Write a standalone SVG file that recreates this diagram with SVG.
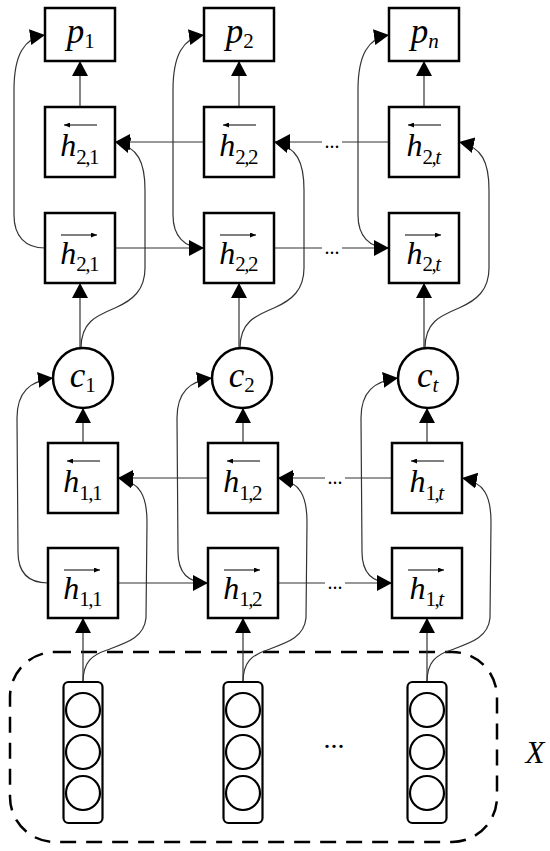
<svg xmlns="http://www.w3.org/2000/svg" width="550" height="851" viewBox="0 0 550 851">
<style>
.box{fill:#fff;stroke:#000;stroke-width:2.5}
.con{fill:none;stroke:#333;stroke-width:1.2}
.arr{marker-end:url(#ah)}
.lbl{font-family:"Liberation Serif","Times New Roman",serif;font-size:35px;font-style:italic;fill:#000}
.hl{font-size:32px}
.sub{font-size:21px;font-style:normal;letter-spacing:-1.5px}
.it{font-style:italic}
.ov{fill:none;stroke:#000;stroke-width:1;marker-end:url(#sa)}
.dots{font-family:"Liberation Serif","Times New Roman",serif;font-size:20px;fill:#000}
.big{font-size:28px}
.in{fill:#fff;stroke:#000;stroke-width:2.2}
</style>
<defs>
<marker id="ah" markerUnits="userSpaceOnUse" markerWidth="15" markerHeight="16" refX="15" refY="8" orient="auto"><path d="M0,0 L15,8 L0,16 z" fill="#000"/></marker>
<marker id="sa" markerUnits="userSpaceOnUse" markerWidth="6" markerHeight="5" refX="6" refY="2.5" orient="auto"><path d="M0,0 L6,2.5 L0,5 z" fill="#000"/></marker>
</defs>
<rect x="0" y="0" width="550" height="851" fill="#fff"/>

<g id="input-region">
<rect x="10" y="652" width="487" height="190" rx="45" ry="45" fill="none" stroke="#000" stroke-width="2.5" stroke-dasharray="16 10"/>
<text x="535" y="763" text-anchor="middle" class="lbl" style="font-size:31px">X</text>
<text x="334" y="748" text-anchor="middle" class="dots big">...</text>
</g>

<g id="connectors">
<path class="con arr" d="M80,107 V61"/>
<path class="con arr" d="M80,348 V283"/>
<path class="con arr" d="M83,443 V408"/>
<path class="con arr" d="M83,682 V618"/>
<path class="con arr" d="M239,107 V61"/>
<path class="con arr" d="M239,348 V283"/>
<path class="con arr" d="M243,443 V408"/>
<path class="con arr" d="M243,682 V618"/>
<path class="con arr" d="M424,107 V61"/>
<path class="con arr" d="M424,348 V283"/>
<path class="con arr" d="M427,443 V408"/>
<path class="con arr" d="M427,682 V618"/>
<path class="con arr" d="M45,248 C25,248 14,236 14,215 L14,90 C14,55 24,38 45,35"/>
<path class="con arr" d="M204,248 C184,248 173,236 173,215 L173,90 C173,55 183,38 204,35"/>
<path class="con arr" d="M389,248 C369,248 358,236 358,215 L358,90 C358,55 368,38 389,35"/>
<path class="con arr" d="M81,348 C81,322 96,316 115,308 C133,300 145,290 145,268 L145,190 C145,162 138,147 115,142"/>
<path class="con arr" d="M240,348 C240,322 255,316 274,308 C292,300 304,290 304,268 L304,190 C304,162 297,147 274,142"/>
<path class="con arr" d="M425,348 C425,322 440,316 459,308 C477,300 489,290 489,268 L489,190 C489,162 482,147 459,142"/>
<path class="con arr" d="M48,583 C28,583 18,572 18,552 L17,418 C17,392 30,381 53,378"/>
<path class="con arr" d="M208,583 C188,583 178,572 178,552 L177,418 C177,392 190,381 212,378"/>
<path class="con arr" d="M392,583 C372,583 362,572 362,552 L361,418 C361,392 374,381 398,378"/>
<path class="con arr" d="M83,682 C83,662 92,655 107,650 C126,643 144,638 146,618 L147,522 C147,496 140,482 118,478"/>
<path class="con arr" d="M243,682 C243,662 252,655 267,650 C286,643 304,638 306,618 L307,522 C307,496 300,482 278,478"/>
<path class="con arr" d="M427,682 C427,662 436,655 451,650 C470,643 488,638 490,618 L491,522 C491,496 484,482 462,478"/>
<path class="con arr" d="M204,142 H115"/>
<path class="con arr" d="M389,142 H342 M322,142 H275"/>
<path class="con arr" d="M115,248 H204"/>
<path class="con arr" d="M275,248 H322 M342,248 H389"/>
<path class="con arr" d="M208,478 H118"/>
<path class="con arr" d="M392,478 H345 M325,478 H278"/>
<path class="con arr" d="M118,583 H208"/>
<path class="con arr" d="M278,583 H325 M345,583 H392"/>
<text x="332" y="148" text-anchor="middle" class="dots">...</text>
<text x="332" y="254" text-anchor="middle" class="dots">...</text>
<text x="335" y="484" text-anchor="middle" class="dots">...</text>
<text x="335" y="589" text-anchor="middle" class="dots">...</text>
</g>

<g id="p1"><rect class="box" x="45" y="8" width="70" height="53"/><text class="lbl" x="80" y="43" text-anchor="middle">p<tspan class="sub" dy="5">1</tspan></text></g>
<g id="p2"><rect class="box" x="204" y="8" width="70" height="53"/><text class="lbl" x="239" y="43" text-anchor="middle">p<tspan class="sub" dy="5">2</tspan></text></g>
<g id="pn"><rect class="box" x="389" y="8" width="70" height="53"/><text class="lbl" x="424" y="43" text-anchor="middle">p<tspan class="sub it" dy="5">n</tspan></text></g>

<g id="h21b"><rect class="box" x="45" y="107" width="70" height="70"/><path class="ov" d="M97,125 H64"/><text class="lbl hl" x="79" y="156" text-anchor="middle">h<tspan class="sub" dy="8">2,1</tspan></text></g>
<g id="h22b"><rect class="box" x="204" y="107" width="70" height="70"/><path class="ov" d="M256,125 H223"/><text class="lbl hl" x="238" y="156" text-anchor="middle">h<tspan class="sub" dy="8">2,2</tspan></text></g>
<g id="h2tb"><rect class="box" x="389" y="107" width="70" height="70"/><path class="ov" d="M441,125 H408"/><text class="lbl hl" x="423" y="156" text-anchor="middle">h<tspan class="sub" dy="8">2,<tspan class="it">t</tspan></tspan></text></g>

<g id="h21f"><rect class="box" x="45" y="213" width="70" height="70"/><path class="ov" d="M61,235 H97"/><text class="lbl hl" x="79" y="264" text-anchor="middle">h<tspan class="sub" dy="7">2,1</tspan></text></g>
<g id="h22f"><rect class="box" x="204" y="213" width="70" height="70"/><path class="ov" d="M220,235 H256"/><text class="lbl hl" x="238" y="264" text-anchor="middle">h<tspan class="sub" dy="7">2,2</tspan></text></g>
<g id="h2tf"><rect class="box" x="389" y="213" width="70" height="70"/><path class="ov" d="M405,235 H441"/><text class="lbl hl" x="423" y="264" text-anchor="middle">h<tspan class="sub" dy="7">2,<tspan class="it">t</tspan></tspan></text></g>

<g id="c1"><circle class="box" cx="83" cy="378" r="30"/><text class="lbl" x="82" y="387" text-anchor="middle">c<tspan class="sub" dy="5">1</tspan></text></g>
<g id="c2"><circle class="box" cx="242" cy="378" r="30"/><text class="lbl" x="241" y="387" text-anchor="middle">c<tspan class="sub" dy="5">2</tspan></text></g>
<g id="ct"><circle class="box" cx="428" cy="378" r="30"/><text class="lbl" x="427" y="387" text-anchor="middle">c<tspan class="sub it" dy="5">t</tspan></text></g>

<g id="h11b"><rect class="box" x="48" y="443" width="70" height="70"/><path class="ov" d="M100,461 H67"/><text class="lbl hl" x="82" y="492" text-anchor="middle">h<tspan class="sub" dy="8">1,1</tspan></text></g>
<g id="h12b"><rect class="box" x="208" y="443" width="70" height="70"/><path class="ov" d="M260,461 H227"/><text class="lbl hl" x="242" y="492" text-anchor="middle">h<tspan class="sub" dy="8">1,2</tspan></text></g>
<g id="h1tb"><rect class="box" x="392" y="443" width="70" height="70"/><path class="ov" d="M444,461 H411"/><text class="lbl hl" x="426" y="492" text-anchor="middle">h<tspan class="sub" dy="8">1,<tspan class="it">t</tspan></tspan></text></g>

<g id="h11f"><rect class="box" x="48" y="548" width="70" height="70"/><path class="ov" d="M64,570 H100"/><text class="lbl hl" x="82" y="599" text-anchor="middle">h<tspan class="sub" dy="7">1,1</tspan></text></g>
<g id="h12f"><rect class="box" x="208" y="548" width="70" height="70"/><path class="ov" d="M224,570 H260"/><text class="lbl hl" x="242" y="599" text-anchor="middle">h<tspan class="sub" dy="7">1,2</tspan></text></g>
<g id="h1tf"><rect class="box" x="392" y="548" width="70" height="70"/><path class="ov" d="M408,570 H444"/><text class="lbl hl" x="426" y="599" text-anchor="middle">h<tspan class="sub" dy="7">1,<tspan class="it">t</tspan></tspan></text></g>

<g id="x1"><rect class="in" x="63.5" y="682" width="39" height="141" rx="5"/><circle class="in" cx="83" cy="710" r="17"/><circle class="in" cx="83" cy="752" r="17"/><circle class="in" cx="83" cy="793" r="17"/></g>
<g id="x2"><rect class="in" x="223.5" y="682" width="39" height="141" rx="5"/><circle class="in" cx="243" cy="710" r="17"/><circle class="in" cx="243" cy="752" r="17"/><circle class="in" cx="243" cy="793" r="17"/></g>
<g id="xt"><rect class="in" x="407.5" y="682" width="39" height="141" rx="5"/><circle class="in" cx="427" cy="710" r="17"/><circle class="in" cx="427" cy="752" r="17"/><circle class="in" cx="427" cy="793" r="17"/></g>
</svg>
